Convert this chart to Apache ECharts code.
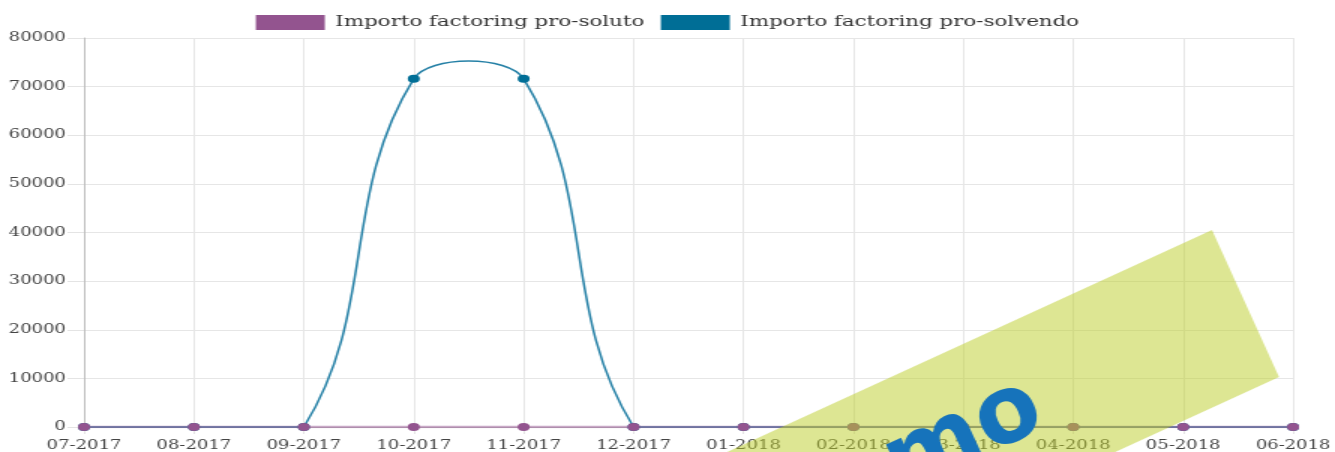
<!DOCTYPE html>
<html>
<head>
<meta charset="utf-8">
<script src="https://cdn.jsdelivr.net/npm/echarts@6/dist/echarts.min.js"></script>
<style>
  html, body { margin: 0; padding: 0; background: #fff; overflow: hidden; }
  /* the source chart is stretched horizontally, so draw narrow and scale x */
  #chart { width: 890px; height: 452px; transform: scaleX(1.5); transform-origin: 0 0; }
</style>
</head>
<body>
<div id="chart"></div>
<script>
const months = ['07-2017', '08-2017', '09-2017', '10-2017', '11-2017', '12-2017',
  '01-2018', '02-2018', '03-2018', '04-2018', '05-2018', '06-2018'];
const proSoluto = [0, 0, 0, 0, 0, 0, 0, 0, 0, 0, 0, 0];
const proSolvendo = [0, 0, 0, 71600, 71600, 0, 0, 0, 0, 0, 0, 0];
const yMin = 0;
const yMax = 80000;
const yStep = 10000;

const SX = 1.5;
const TENSION = 0.4;
const font = 'DejaVu Serif';
const chart = echarts.init(document.getElementById('chart'));

// spline control points like the original chart (tension 0.4, kept inside the plot)
function controlPoints(prev, cur, next, t, box) {
  const d01 = Math.hypot(cur[0] - prev[0], cur[1] - prev[1]);
  const d12 = Math.hypot(next[0] - cur[0], next[1] - cur[1]);
  const sum = d01 + d12 || 1;
  const fa = t * d01 / sum;
  const fb = t * d12 / sum;
  const dx = next[0] - prev[0];
  const dy = next[1] - prev[1];
  const clamp = (p) => [
    Math.min(Math.max(p[0], box.x), box.x + box.width),
    Math.min(Math.max(p[1], box.y), box.y + box.height)
  ];
  return {
    before: clamp([cur[0] - fa * dx, cur[1] - fa * dy]),
    after: clamp([cur[0] + fb * dx, cur[1] + fb * dy])
  };
}

function renderSpline(values, color, width) {
  return function (params, api) {
    const i = params.dataIndex;
    if (i >= values.length - 1) return;
    const box = params.coordSys;
    const last = values.length - 1;
    const pt = (k) => {
      const j = Math.min(Math.max(k, 0), last);
      return api.coord([j, values[j]]);
    };
    const p0 = pt(i - 1), p1 = pt(i), p2 = pt(i + 1), p3 = pt(i + 2);
    const c1 = controlPoints(p0, p1, p2, TENSION, box).after;
    const c2 = controlPoints(p1, p2, p3, TENSION, box).before;
    return {
      type: 'bezierCurve',
      shape: { x1: p1[0], y1: p1[1], cpx1: c1[0], cpy1: c1[1], cpx2: c2[0], cpy2: c2[1], x2: p2[0], y2: p2[1] },
      style: { stroke: color, lineWidth: width, fill: null }
    };
  };
}

chart.setOption({
  animation: false,
  textStyle: { fontFamily: font },
  legend: {
    top: 10,
    left: 'center',
    icon: 'rect',
    itemWidth: 46,
    itemHeight: 15,
    itemGap: 11,
    textStyle: { fontFamily: font, fontSize: 14.25, color: '#333', padding: [0, 0, 0, 2] },
    data: ['Importo factoring pro-soluto', 'Importo factoring pro-solvendo']
  },
  grid: { left: 56, right: 24, top: 38, bottom: 25, containLabel: false },
  xAxis: {
    type: 'category',
    data: months,
    boundaryGap: false,
    axisLine: { lineStyle: { color: '#c8c8c8' } },
    axisTick: { show: true, length: 7, lineStyle: { color: '#e4e4e4' } },
    axisLabel: { fontFamily: font, fontSize: 12, color: '#444', margin: 13 },
    splitLine: { show: true, lineStyle: { color: '#e6e6e6' } }
  },
  yAxis: {
    type: 'value',
    min: yMin,
    max: yMax,
    interval: yStep,
    axisLine: { show: true, lineStyle: { color: '#bdbdbd' } },
    axisTick: { show: true, length: 11, lineStyle: { color: '#e4e4e4' } },
    axisLabel: { fontFamily: font, fontSize: 12, color: '#444', margin: 12, formatter: (v) => String(v) },
    splitLine: { show: true, lineStyle: { color: '#e6e6e6' } }
  },
  series: [
    {
      name: 'Importo factoring pro-soluto',
      type: 'line',
      z: 4,
      data: proSoluto,
      symbol: 'circle',
      symbolSize: 8,
      itemStyle: { color: '#93548f' },
      lineStyle: { color: 'rgba(147,84,143,0.5)', width: 2.5 }
    },
    {
      name: 'Importo factoring pro-solvendo',
      type: 'line',
      z: 3,
      data: proSolvendo,
      symbol: 'circle',
      symbolSize: 8,
      itemStyle: { color: '#006e96' },
      lineStyle: { opacity: 0 }
    },
    {
      type: 'custom',
      z: 2,
      silent: true,
      data: proSolvendo.map((v, i) => [i, v]),
      encode: { x: 0, y: 1 },
      renderItem: renderSpline(proSolvendo, '#2580a6', 1.5)
    }
  ],
  // "Demo" watermark banner, laid out in unstretched page pixels
  graphic: [{
    type: 'group',
    x: 0,
    y: 0,
    scaleX: 1 / SX,
    z: 100,
    children: [
      {
        type: 'polygon',
        z: 100,
        shape: { points: [[1212, 230], [1279, 377], [279, 835], [212, 688]] },
        style: { fill: 'rgba(187,206,40,0.5)' }
      },
      {
        type: 'text',
        z: 101,
        x: 900,
        y: 468,
        rotation: 25 * Math.PI / 180,
        style: {
          text: 'Demo',
          fill: '#1673bb',
          font: 'bold 94px "DejaVu Sans"',
          textAlign: 'center',
          textVerticalAlign: 'middle'
        }
      }
    ]
  }]
});
</script>
</body>
</html>
